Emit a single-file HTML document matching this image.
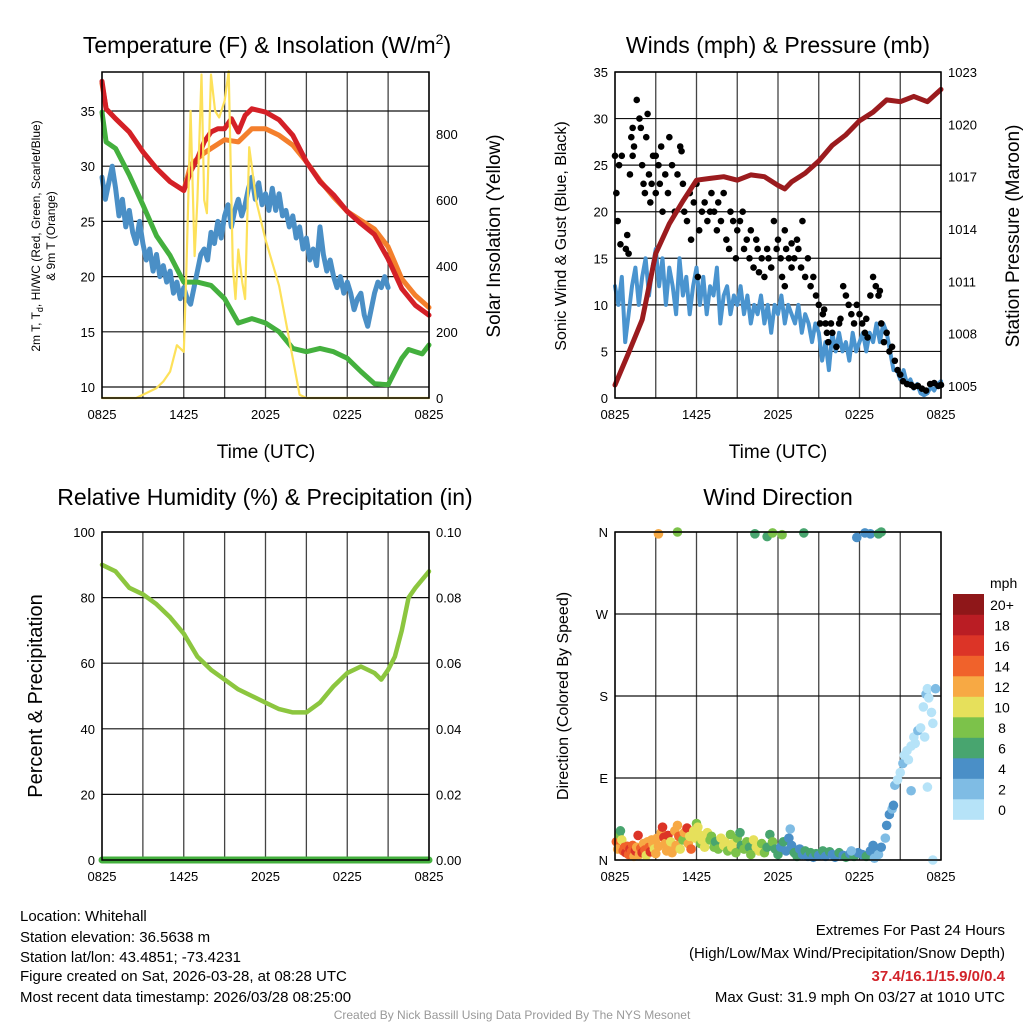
<!DOCTYPE html>
<html><head><meta charset="utf-8"><style>
html,body{margin:0;padding:0;background:#fff;}
svg{display:block;font-family:"Liberation Sans",sans-serif;}
</style></head><body>
<svg id="chart" width="1024" height="1024" viewBox="0 0 1024 1024">
<g id="titles">
<text x="267" y="53" font-size="23" text-anchor="middle">Temperature (F) &amp; Insolation (W/m<tspan font-size="14" dy="-9">2</tspan><tspan dy="9">)</tspan></text>
<text x="778" y="53" font-size="23" text-anchor="middle">Winds (mph) &amp; Pressure (mb)</text>
<text x="265" y="505" font-size="23" text-anchor="middle">Relative Humidity (%) &amp; Precipitation (in)</text>
<text x="778" y="505" font-size="23" text-anchor="middle">Wind Direction</text>
<text x="266" y="458" font-size="19" text-anchor="middle">Time (UTC)</text>
<text x="778" y="458" font-size="19" text-anchor="middle">Time (UTC)</text>
<text transform="translate(40,236) rotate(-90)" font-size="12" text-anchor="middle">2m T, T<tspan font-size="9" dy="3">d</tspan><tspan dy="-3">, HI/WC (Red, Green, Scarlet/Blue)</tspan></text>
<text transform="translate(55,236) rotate(-90)" font-size="12" text-anchor="middle">&amp; 9m T (Orange)</text>
<text transform="translate(500,236) rotate(-90)" font-size="19" text-anchor="middle">Solar Insolation (Yellow)</text>
<text transform="translate(566,236) rotate(-90)" font-size="16" text-anchor="middle">Sonic Wind &amp; Gust (Blue, Black)</text>
<text transform="translate(1019,236) rotate(-90)" font-size="19" text-anchor="middle">Station Pressure (Maroon)</text>
<text transform="translate(42,696) rotate(-90)" font-size="20" text-anchor="middle">Percent &amp; Precipitation</text>
<text transform="translate(568,696) rotate(-90)" font-size="16" text-anchor="middle">Direction (Colored By Speed)</text>
</g>
<g id="info" font-size="15">
<text x="20" y="921">Location: Whitehall</text>
<text x="20" y="942">Station elevation: 36.5638 m</text>
<text x="20" y="962">Station lat/lon: 43.4851; -73.4231</text>
<text x="20" y="981">Figure created on Sat, 2026-03-28, at 08:28 UTC</text>
<text x="20" y="1002">Most recent data timestamp: 2026/03/28 08:25:00</text>
<text x="1005" y="935" text-anchor="end">Extremes For Past 24 Hours</text>
<text x="1005" y="958" text-anchor="end">(High/Low/Max Wind/Precipitation/Snow Depth)</text>
<text x="1005" y="981" text-anchor="end" fill="#d2232a" font-weight="bold">37.4/16.1/15.9/0/0.4</text>
<text x="1005" y="1002" text-anchor="end">Max Gust: 31.9 mph On 03/27 at 1010 UTC</text>
<text x="512" y="1019" text-anchor="middle" font-size="12" fill="#999">Created By Nick Bassill Using Data Provided By The NYS Mesonet</text>
</g>
</svg>
<script>
// ---------- data ----------
const xTickLabels = ["0825","1425","2025","0225","0825"];
// Temperature panel
const tHours = [0,0.3,1,2,3,4,5,6,6.5,7,7.5,8,8.5,9,9.5,10,10.5,11,12,13,14,15,16,17,18,19,20,21,22,23,24];
const tempRed = [37.7,35.2,34.3,33.1,31.3,29.8,28.6,27.8,29.5,30.7,32.2,33.1,33.4,33.4,34.3,33.1,34.6,35.2,34.9,34.2,32.8,30.4,28.6,27.4,25.9,24.8,23.8,21.6,18.9,17.4,16.5];
const temp9m = [37.5,35.2,34.3,33.1,31.3,29.8,28.6,27.8,30.1,30.7,31.2,31.6,32.0,32.4,32.3,32.2,32.8,33.4,33.4,32.8,31.9,30.4,28.7,27.2,25.9,25.1,24.3,22.7,19.8,18.3,17.2];
const gHours = [0,0.3,1,2,3,4,5,6,7,8,9,10,11,12,13,14,15,16,17,18,19,20,21,21.5,22,22.5,23,23.5,24];
const dewpoint = [34.9,32.2,31.6,29.2,26.5,23.7,21.9,19.5,19.5,19.2,18.0,15.8,16.2,15.8,15.0,13.5,13.2,13.5,13.2,12.6,11.4,10.3,10.2,11.4,12.6,13.4,13.2,13.0,13.8];
const bHours = [0,0.25,0.5,0.75,1,1.25,1.5,1.75,2,2.25,2.5,2.75,3,3.25,3.5,3.75,4,4.25,4.5,4.75,5,5.25,5.5,5.75,6,6.25,6.5,6.75,7,7.25,7.5,7.75,8,8.25,8.5,8.75,9,9.25,9.5,9.75,10,10.25,10.5,10.75,11,11.25,11.5,11.75,12,12.25,12.5,12.75,13,13.25,13.5,13.75,14,14.25,14.5,14.75,15,15.25,15.5,15.75,16,16.25,16.5,16.75,17,17.25,17.5,17.75,18,18.25,18.5,18.75,19,19.25,19.5,19.75,20,20.25,20.5,20.75,21];
const windChill = [29,27,28.5,30,28,25.5,27,24.5,26,24,23,25,23,21.5,22.5,20.5,22,20,21,19.5,20.5,18.5,19.5,18,19,18,17.5,19,20.5,22,22.5,21.5,24,23,25,23.5,25.5,26.5,24.5,26,27,25.5,26.5,28,29,27,28.5,26.5,27.5,26,28,26,27.5,25.5,26,24.5,25.5,23.5,24.5,22.5,23.5,21.5,22.5,21,24.5,22,20.5,21.5,20,19,20,18.5,19.5,18.5,17,18,18.5,16.5,15.5,17,18.5,19.5,19,20,19];
const sHours = [0,2.5,3,4,4.5,5,5.5,6,6.2,6.5,6.8,7,7.3,7.5,7.7,8,8.3,8.6,9,9.3,9.6,9.8,10,10.3,10.5,10.8,11,11.3,12,13,14,14.5,15,24];
const insolation = [0,0,10,30,50,80,160,140,400,870,430,600,980,600,560,980,870,850,900,990,400,300,450,350,300,760,700,600,480,340,120,10,0,0];
// Wind panel
const wHours = [0,0.25,0.5,0.75,1,1.25,1.5,1.75,2,2.25,2.5,2.75,3,3.25,3.5,3.75,4,4.25,4.5,4.75,5,5.25,5.5,5.75,6,6.25,6.5,6.75,7,7.25,7.5,7.75,8,8.25,8.5,8.75,9,9.25,9.5,9.75,10,10.25,10.5,10.75,11,11.25,11.5,11.75,12,12.25,12.5,12.75,13,13.25,13.5,13.75,14,14.25,14.5,14.75,15,15.25,15.5,15.75,16,16.25,16.5,16.75,17,17.25,17.5,17.75,18,18.25,18.5,18.75,19,19.25,19.5,19.75,20,20.25,20.5,20.75,21,21.25,21.5,21.75,22,22.25,22.5,22.75,23,23.25,23.5,23.75,24];
const windSpeed = [12,10,13,6,9,12,14,10,13,15,11,14,16,12,15,10,14,12,9,15,11,13,9,12,14,10,13,9,12,11,14,8,11,12,9,11,10,12,9,11,8,10,9,11,8,10,7,10,9,11,8,10,9,8,10,7,9,8,6,8,7,4,6,3,7,5,7,5,6,4,7,5,6,7,5,7,6,8,6,8,7,5,3,3,2,3,1.5,2,1,1.5,0.5,0.3,0.5,1.2,0.8,1.5,1.8];
const pHours = [0,1,2,3,4,5,6,7,8,9,10,11,12,12.5,13,14,15,16,17,18,19,20,21,22,23,24];
const pressure = [1005.06,1006.9,1008.8,1012.6,1014.3,1015.6,1016.8,1016.9,1017.0,1016.8,1017.1,1017.0,1016.5,1016.3,1016.7,1017.2,1017.9,1018.8,1019.4,1020.2,1020.7,1021.4,1021.3,1021.6,1021.3,1022.0];
const gustHours = [0,0.1,0.2,0.3,0.5,0.4,0.8,1,0.9,1.1,1.2,1.3,1.3,1.4,1.6,1.8,1.9,2,2.1,2.2,2.3,2.5,2.6,2.7,2.8,3,3,3.2,3.3,3.4,3.5,3.7,3.9,4,4.2,4.4,4.6,4.8,5,5.1,5.3,5.5,5.6,5.8,6,6.2,6.4,6.6,6.8,7,7.1,7.3,7.5,7.6,7.8,8,8.2,8.4,8.5,8.7,8.9,9,9.2,9.4,9.5,9.7,9.9,10,10.2,10.4,10.5,10.8,11,11.2,11.3,11.5,11.7,11.9,12,12.2,12.3,12.5,12.6,12.8,13,13.2,13.4,13.5,13.7,13.8,14,14.2,14.4,14.6,14.8,15,15.1,15.3,15.5,15.6,15.7,15.9,16,16.3,16.5,16.8,17,17.2,17.4,17.6,17.8,18,18.2,18.4,18.6,18.8,19,19.2,19.4,19.5,19.6,19.8,20,20.2,20.4,20.6,20.8,21,21.2,21.5,21.8,22,22.3,22.6,22.9,23.2,23.5,23.8,24,2.4,12.5,18.5,4.9,15.4,16.6,10.6,6.1,13];
const gusts = [26,22,19,25,26,16.5,16,15.5,17.5,24,28,29,26,27,32,30,29,25,23,22,28,24,21,23,26,22,26,25,23,27,20,24,22,28,25,20,24,27,23,20,19,22,17,21,23,18,20,21,19,20,22,20,18,21,19,22,17,16,20,19,15,18,19,20,16,17,15,18,14,17,16,15,13,16,15,14,19,16,17,15,13,18,16,15,14,15,17,16,14,19,13,15,12,13,11,10,8,9,8,7,6,8,7,5.5,8,12,11,10,9,8,10,9,8,7,6.5,11,13,12,11,11.5,8,6,7,5,5.5,4,3,2.5,1.8,1.5,1.4,1.2,1.3,1.0,0.8,1.5,1.6,1.3,1.4,30.5,12,8.5,26.5,9.5,8.5,13.5,13,16.6];
// RH panel
const rhHours = [0,1,2,3,4,5,6,7,8,9,10,11,12,13,14,15,16,17,18,19,20,20.5,21,21.5,22,22.5,23,24];
const rh = [90,88,83,81,78,74,69,62,58,55,52,50,48,46,45,45,48,53,57,59,57,55,58,62,70,80,83,88];
const precipHours = [0,24];
const precip = [0,0];
// Wind direction panel
const dirHours = [0.1,0.2,0.3,0.4,0.5,0.6,0.7,0.8,0.9,1.0,1.1,1.2,1.3,1.4,1.5,1.6,1.7,1.8,1.9,2.0,2.1,2.2,2.3,2.4,2.5,2.6,2.7,2.8,2.9,3.0,3.1,3.2,3.4,3.5,3.6,3.7,3.8,3.9,4.0,4.1,4.2,4.4,4.5,4.6,4.7,4.8,5.0,5.1,5.3,5.4,5.5,5.6,5.8,5.9,6.0,6.1,6.2,6.3,6.4,6.6,6.8,7.0,7.1,7.3,7.4,7.6,7.8,8.0,8.1,8.3,8.5,8.6,8.7,8.9,9.0,9.2,9.3,9.5,9.7,9.9,10.0,10.2,10.4,10.6,10.8,11.0,11.2,11.4,11.6,11.8,12.0,12.2,12.4,12.6,12.8,12.9,13.0,13.2,13.4,13.6,13.8,14.0,14.2,14.4,14.6,14.8,15.0,15.3,15.5,15.8,16.0,16.2,16.5,16.8,17.0,17.3,17.6,17.9,18.2,18.5,18.8,19.0,19.2,19.4,19.6,19.9,20.0,20.2,20.4,20.5,20.6,20.8,21.0,21.2,21.3,21.5,21.6,21.8,22.0,22.1,22.3,22.5,22.7,22.9,23.1,23.3,23.4,22.8,23.0,23.6,23.4,23.0,21.8,19.1,17.4,3.2,4.6,10.3,11.2,11.6,12.3,13.9,17.8,18.4,18.8,19.4,19.6];
const dirDeg = [20,12,28,32,22,10,14,8,15,6,12,9,16,4,10,14,27,6,13,8,18,11,5,20,14,9,22,17,12,7,24,15,30,36,25,18,10,27,14,20,8,32,16,38,26,12,22,30,35,18,26,12,32,24,40,36,28,18,22,14,30,22,26,14,20,12,24,16,20,10,28,14,18,8,24,30,16,12,20,14,6,22,14,10,18,8,14,28,20,12,6,14,20,10,24,34,16,8,4,12,6,10,4,8,3,7,5,10,4,9,6,3,8,5,3,7,4,8,6,4,10,16,8,6,14,24,38,50,56,60,82,88,96,106,115,120,110,125,135,128,142,145,168,182,178,162,150,135,188,188,0,80,76,2,10,358,360,358,355,359,357,359,354,359,358,358,360];
const dirSpeed = [14,12,8,6,10,15,15,16,14,15,16,14,15,12,16,13,17,12,15,16,13,14,10,12,14,16,12,12,10,13,13,12,12,16,17,12,12,16,12,10,12,12,12,12,14,10,8,12,17,12,10,14,10,10,8,10,10,8,10,10,10,8,8,8,6,8,10,10,10,8,8,10,10,8,8,6,6,8,8,6,8,10,10,10,8,8,6,6,8,6,6,4,6,4,4,2,4,6,6,4,4,6,4,6,4,6,4,6,4,6,4,4,6,4,6,4,6,4,4,6,4,4,4,2,4,2,4,4,2,4,2,0,0,2,0,0,0,0,0,0,2,0,0,2,0,0,0,0,0,2,0,0,2,2,2,12,8,6,6,8,8,6,4,4,4,6,6];
const speedLabels = ["0","2","4","6","8","10","12","14","16","18","20+"];
const speedColors = ["#b6e3f8","#7fbce4","#4a8fc7","#48a56f","#7cc24a","#e6e05b","#f7a944","#f0622b","#dc3427","#ba1d24","#8f1719"];

// ---------- helpers ----------
const svg = document.getElementById('chart');
const NS = 'http://www.w3.org/2000/svg';
function mk(tag, attrs, parent){const e=document.createElementNS(NS,tag);for(const k in attrs)e.setAttribute(k,attrs[k]);(parent||svg).appendChild(e);return e;}
function linScale(d0,d1,r0,r1){return v=>r0+(v-d0)/(d1-d0)*(r1-r0);}

function frame(p, name){
  const g = mk('g',{});
  
  
  for(let i=0;i<=8;i++){
    const x=p.x0+(p.x1-p.x0)*i/8;
    const l=mk('line',{x1:x,y1:p.y0,x2:x,y2:p.y1,stroke:'#444','stroke-width':1.3},g);
    
    
    if(i%2===0){
      const t=mk('text',{x:x,y:p.y1+21,'font-size':13,'text-anchor':'middle'},g);
      t.textContent=xTickLabels[i/2];
      
      
    }
  }
  return g;
}
function yAxis(p, g, ys, labels, side, name, grid){
  ys.forEach((y,i)=>{
    if(grid){const l=mk('line',{x1:p.x0,y1:y,x2:p.x1,y2:y,stroke:'#111','stroke-width':1.2},g);
      
      }
    const x = side==='left'? p.x0-7 : p.x1+7;
    const t=mk('text',{x:x,y:y+5,'font-size':13,'text-anchor':side==='left'?'end':'start'},g);
    t.textContent=labels[i];
    
    
  });
}
function border(p,name){
  const r=mk('rect',{x:p.x0,y:p.y0,width:p.x1-p.x0,height:p.y1-p.y0,fill:'none',stroke:'#000','stroke-width':1.5});
  
  
}
function line(xs,vs,sx,sy,color,w,name){
  const pts=xs.map((t,i)=>sx(t).toFixed(1)+','+sy(vs[i]).toFixed(1)).join(' ');
  const l=mk('polyline',{points:pts,fill:'none',stroke:color,'stroke-width':w,'stroke-linejoin':'round','stroke-linecap':'round'});
  
  
}

// ---------- Panel 1 ----------
const P1={x0:102,x1:429,y0:72,y1:398};
const sx1=linScale(0,24,P1.x0,P1.x1);
const sy1=linScale(10,35,387,111);
const sy1r=linScale(0,800,398,134);
const g1=frame(P1,'temp');
yAxis(P1,g1,[10,15,20,25,30,35].map(sy1),["10","15","20","25","30","35"],'left','temp-y',true);
yAxis(P1,g1,[0,200,400,600,800].map(sy1r),["0","200","400","600","800"],'right','insolation-y',false);
line(bHours,windChill,sx1,sy1,'#4a8fc6',5,'wind-chill-line');
line(gHours,dewpoint,sx1,sy1,'#44b03e',5,'dewpoint-line');
line(tHours,temp9m,sx1,sy1,'#f47f2c',5,'temp-9m-line');
line(tHours,tempRed,sx1,sy1,'#d42027',5,'temp-2m-line');
line(sHours,insolation,sx1,sy1r,'#fde15a',2.2,'insolation-line');
border(P1,'temp');

// ---------- Panel 2 ----------
const P2={x0:615,x1:941,y0:72,y1:398};
const sx2=linScale(0,24,P2.x0,P2.x1);
const sy2=linScale(0,35,398,72);
const sy2r=linScale(1005,1023,386,72);
const g2=frame(P2,'wind');
yAxis(P2,g2,[0,5,10,15,20,25,30,35].map(sy2),["0","5","10","15","20","25","30","35"],'left','wind-y',true);
yAxis(P2,g2,[1005,1008,1011,1014,1017,1020,1023].map(sy2r),["1005","1008","1011","1014","1017","1020","1023"],'right','pressure-y',false);
line(wHours,windSpeed,sx2,sy2,'#4a94cf',4,'wind-speed-line');
gustHours.forEach((t,i)=>{
  const c=mk('circle',{cx:sx2(t),cy:sy2(gusts[i]),r:3.3,fill:'#000'});
  
  
});
line(pHours,pressure,sx2,sy2r,'#9b1b1e',5,'pressure-line');
border(P2,'wind');

// ---------- Panel 3 ----------
const P3={x0:102,x1:429,y0:532,y1:860};
const sx3=linScale(0,24,P3.x0,P3.x1);
const sy3=linScale(0,100,860,532);
const sy3r=linScale(0,0.1,860,532);
const g3=frame(P3,'rh');
yAxis(P3,g3,[0,20,40,60,80,100].map(sy3),["0","20","40","60","80","100"],'left','rh-y',true);
yAxis(P3,g3,[0,0.02,0.04,0.06,0.08,0.1].map(sy3r),["0.00","0.02","0.04","0.06","0.08","0.10"],'right','precip-y',false);
line(rhHours,rh,sx3,sy3,'#8cc63f',4.5,'rh-line');
line(precipHours,precip,sx3,sy3r,'#44b03e',7,'precip-line');
border(P3,'rh');

// ---------- Panel 4 ----------
const P4={x0:615,x1:941,y0:532,y1:860};
const sx4=linScale(0,24,P4.x0,P4.x1);
const sy4=linScale(0,360,860,532);
const g4=frame(P4,'direction');
yAxis(P4,g4,[0,90,180,270,360].map(sy4),["N","E","S","W","N"],'left','direction-y',true);
dirHours.forEach((t,i)=>{
  const bin=Math.min(10,Math.floor(dirSpeed[i]/2));
  const c=mk('circle',{cx:sx4(t),cy:sy4(dirDeg[i]),r:4.8,fill:speedColors[bin]});
  
  
});
border(P4,'direction');
// colorbar
const cb=mk('g',{});


const cbt=mk('text',{x:990,y:588,'font-size':14},cb);
cbt.textContent='mph';


speedLabels.forEach((lab,i)=>{
  const y=594+(10-i)*20.5;
  const r=mk('rect',{x:953,y:y,width:31,height:20.8,fill:speedColors[i]},cb);
  
  
  const t=mk('text',{x:1002,y:y+16,'font-size':14,'text-anchor':'middle'},cb);
  t.textContent=lab;
  
  
});
</script>
</body></html>
